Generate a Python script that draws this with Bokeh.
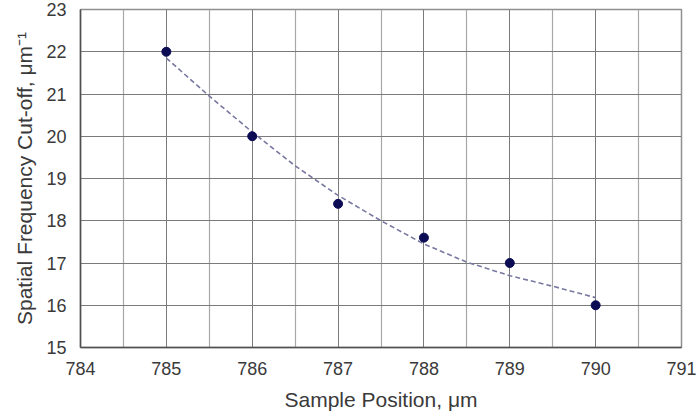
from bokeh.plotting import figure
from bokeh.models import FixedTicker, Range1d
from bokeh.embed import file_html
from bokeh.resources import INLINE

# Data
positions = [785, 786, 787, 788, 789, 790]
cutoffs = [22.0, 20.0, 18.4, 17.6, 17.0, 16.0]

# Trend line (dashed)
trend_x = [785, 785.5, 786, 786.5, 787, 787.5, 788, 788.5, 789, 789.5, 790]
trend_y = [21.85, 20.95, 20.1, 19.3, 18.6, 18.0, 17.45, 17.02, 16.7, 16.45, 16.18]

x_ticks = [784, 785, 786, 787, 788, 789, 790, 791]
x_minor = [784.5, 785.5, 786.5, 787.5, 788.5, 789.5, 790.5]
y_ticks = [15, 16, 17, 18, 19, 20, 21, 22, 23]

FONT = "Liberation Sans"

p = figure(width=696, height=419, output_backend="svg", toolbar_location=None,
           x_range=Range1d(784, 791), y_range=Range1d(15, 23),
           min_border_left=80, min_border_right=15, min_border_top=9, min_border_bottom=72)

p.background_fill_color = "white"
p.border_fill_color = "white"
p.outline_line_color = "#909090"
p.outline_line_width = 1.5

p.xaxis.ticker = FixedTicker(ticks=x_ticks, minor_ticks=x_minor)
p.yaxis.ticker = FixedTicker(ticks=y_ticks)

p.xgrid.grid_line_color = "#7a7a7a"
p.xgrid.grid_line_width = 1
p.xgrid.minor_grid_line_color = "#a8a8a8"
p.xgrid.minor_grid_line_width = 1.2
p.ygrid.grid_line_color = "#7a7a7a"
p.ygrid.grid_line_width = 1

for ax in (p.xaxis, p.yaxis):
    ax.axis_line_color = "#505050"
    ax.axis_line_width = 1.5
    ax.major_tick_line_color = None
    ax.minor_tick_line_color = None
    ax.major_label_text_font = FONT
    ax.major_label_text_font_size = "18px"
    ax.major_label_text_color = "#3a3a3a"
    ax.axis_label_text_font = FONT
    ax.axis_label_text_font_size = "21px"
    ax.axis_label_text_font_style = "normal"
    ax.axis_label_text_color = "#3a3a3a"

p.xaxis.axis_label = "Sample Position, μm"
p.yaxis.axis_label = "Spatial Frequency Cut-off, μm⁻¹"
p.xaxis.major_label_standoff = 8
p.xaxis.axis_label_standoff = 10
p.yaxis.major_label_standoff = 8
p.yaxis.axis_label_standoff = 7

p.line(trend_x, trend_y, line_color="#7878a0", line_width=1.6, line_dash="5 3")
p.scatter(positions, cutoffs, size=9, fill_color="#0c0c55", line_color="#0c0c55")

open("out.html", "w").write(file_html(p, INLINE))
